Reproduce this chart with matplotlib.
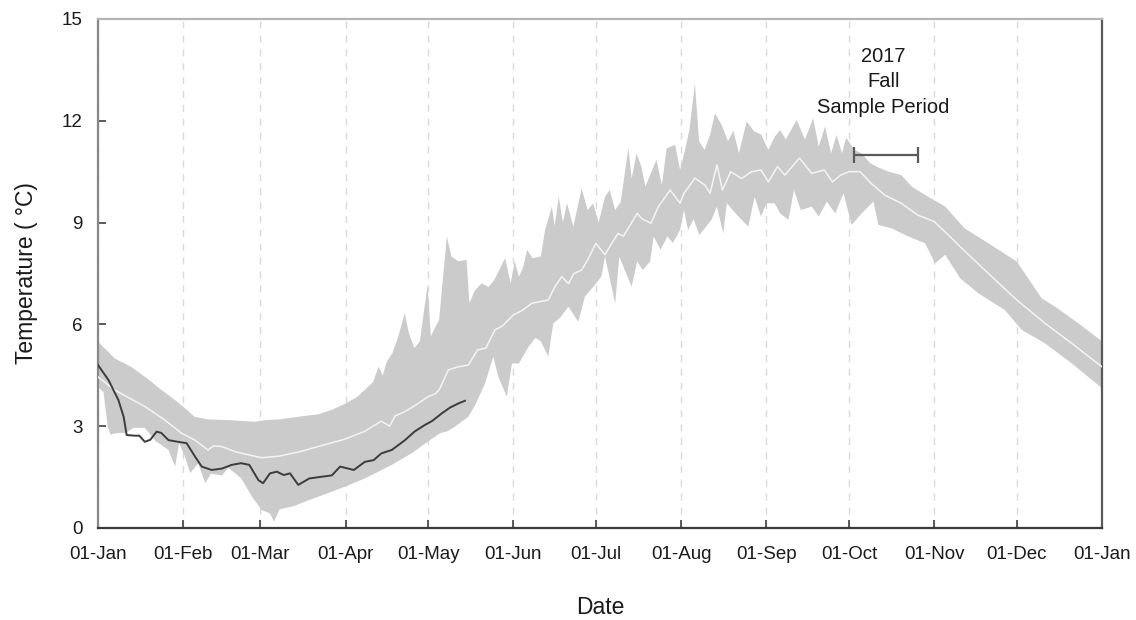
import numpy as np
import matplotlib
matplotlib.use('Agg')
import matplotlib.pyplot as plt
import matplotlib.dates as mdates

plt.rcParams['font.family'] = ['Liberation Sans', 'DejaVu Sans']

# day of year (from 01-Jan) and temperature in deg C

# upper edge of the historical range
up_day = [0, 3, 6, 12, 18, 23, 28, 32, 35, 40, 47, 53, 57, 61, 66, 73, 80, 85, 90, 94,
          97, 100, 102, 103.5, 105, 107, 109, 111.5, 113, 115, 117, 119.8, 121, 122.5, 124,
          126.8, 128.5, 131, 134, 135, 137, 139.5, 142, 144, 148, 150, 151.5, 153, 154.6,
          156, 158, 161, 162.5, 165, 166, 167.5, 169, 170.5, 172.8, 175.8, 178, 180, 182,
          184.3, 186, 188, 190, 192.8, 194, 195.8, 197.5, 199, 203, 205, 206.7, 209.8,
          211.6, 213, 215, 217, 218.5, 220.5, 222.5, 224.3, 226.7, 229, 231, 233, 235.8,
          238.5, 241, 243.7, 246, 248, 250, 254, 257, 260, 262, 264.3, 266.5, 268.5, 270.5,
          272, 275, 277.6, 280.7, 283, 287.3, 292, 295.8, 301.8, 308, 315, 323.7, 334,
          339.4, 343, 348, 356.4, 365]
up_temp = [5.49, 5.25, 5.0, 4.75, 4.4, 4.07, 3.77, 3.5, 3.28, 3.2, 3.18, 3.15, 3.13, 3.18,
           3.2, 3.28, 3.35, 3.48, 3.67, 3.85, 4.07, 4.3, 4.75, 4.5, 4.9, 5.15, 5.6, 6.33, 5.74,
           5.3, 5.5, 7.16, 5.64, 5.9, 6.13, 8.59, 8.0, 7.86, 7.9, 6.62, 7.0, 7.21, 7.1, 7.3,
           7.95, 7.2, 7.86, 7.4, 7.7, 8.19, 7.95, 8.0, 8.78, 9.47, 8.9, 9.76, 9.0, 9.57, 8.88,
           10.0, 9.37, 9.57, 9.0, 9.76, 9.96, 9.37, 9.6, 11.19, 10.3, 11.04, 10.65, 10.06,
           10.85, 10.1, 11.19, 11.29, 10.55, 11.0, 11.73, 13.1, 11.4, 11.14, 11.58, 12.22,
           11.88, 11.4, 11.7, 11.04, 11.98, 11.69, 11.6, 11.14, 11.53, 11.73, 11.45, 12.02,
           11.45, 12.07, 11.24, 11.83, 11.04, 11.58, 11.04, 11.5, 11.14, 11.04, 10.75, 10.65,
           10.5, 10.4, 10.06, 9.76, 9.47, 8.83, 8.39, 7.85, 7.21, 6.77, 6.52, 6.03, 5.5]

# lower edge of the historical range
lo_day = [0, 2, 3.5, 4.5, 7, 10, 13, 17, 21, 23, 25.6, 28, 29.5, 31.6, 33.5, 36.4, 39, 41,
          45, 47.4, 52, 56, 59.5, 62.5, 64, 66, 71, 77, 85, 89.8, 97, 106.8, 114, 120, 124.3,
          127, 130, 134.6, 137, 140.7, 143.7, 145.5, 148.6, 150.5, 153, 156.5, 159, 161,
          163.7, 165.5, 168, 171, 174.6, 177, 181, 183, 184.3, 188, 189.5, 191.5, 194, 196,
          198, 200.7, 202, 204.5, 207, 209, 211.6, 213, 214.5, 216.5, 218.6, 223, 225, 227.3,
          228.6, 232.8, 236.4, 238.7, 241, 243, 246, 248, 251, 253, 255.5, 259.5, 262, 265,
          268, 271, 274, 277.6, 281.9, 283.7, 288.5, 294.6, 300.7, 304.3, 308, 313.4, 320,
          329.7, 335.8, 344.3, 354, 365]
lo_temp = [4.16, 4.0, 3.0, 2.75, 2.8, 2.8, 2.95, 2.95, 2.55, 2.45, 2.3, 1.81, 2.5, 2.1, 1.62,
           1.9, 1.32, 1.6, 1.55, 1.77, 1.47, 0.92, 0.53, 0.43, 0.19, 0.55, 0.64, 0.83, 1.07,
           1.22, 1.46, 1.86, 2.2, 2.55, 2.79, 2.85, 3.0, 3.28, 3.6, 4.26, 5.05, 4.46, 3.87,
           4.85, 4.85, 5.34, 5.6, 5.5, 5.05, 6.03, 6.2, 6.52, 6.08, 6.82, 7.2, 7.41, 8.0, 6.62,
           8.0, 7.6, 7.11, 7.86, 7.6, 7.85, 8.59, 8.2, 8.59, 8.4, 8.78, 9.37, 8.78, 9.1, 8.63,
           9.08, 9.47, 8.68, 9.57, 9.18, 8.88, 9.76, 9.18, 9.57, 9.57, 9.27, 9.08, 9.96, 9.37,
           9.47, 9.18, 9.62, 9.27, 9.86, 8.93, 9.27, 9.62, 8.93, 8.83, 8.59, 8.39, 7.8, 8.05,
           7.36, 6.92, 6.42, 5.84, 5.44, 4.85, 4.12]

# daily mean
mean_day = [0, 6, 12, 17, 24, 30.4, 35, 40, 42, 45, 49.8, 55, 59.5, 66, 73.4, 80, 89.8, 97,
            103, 106, 108, 111.6, 116, 120, 122.5, 124, 127.4, 131, 134.6, 138, 141, 144.3,
            147, 151, 154, 157.7, 163.7, 166, 168.6, 171, 173, 175.8, 178, 181, 184.3, 186,
            189, 191, 196, 198, 201, 203.7, 208, 211.6, 213, 217, 220.7, 222.5, 225, 227, 230,
            234, 237.6, 241, 243.7, 247, 249.7, 255, 259.5, 264, 267, 270, 273, 277, 281, 286,
            292, 298, 304, 309.7, 313.4, 323.7, 334, 344.3, 354, 365]
mean_temp = [4.45, 4.07, 3.8, 3.58, 3.2, 2.79, 2.6, 2.3, 2.42, 2.4, 2.25, 2.15, 2.07, 2.12,
             2.25, 2.4, 2.62, 2.85, 3.15, 3.0, 3.3, 3.43, 3.65, 3.87, 3.95, 4.07, 4.66, 4.75,
             4.8, 5.25, 5.3, 5.84, 5.95, 6.28, 6.4, 6.62, 6.72, 7.1, 7.41, 7.2, 7.5, 7.6, 7.9,
             8.39, 8.05, 8.29, 8.68, 8.6, 9.27, 9.1, 8.98, 9.47, 9.96, 9.57, 9.86, 10.31, 10.1,
             9.86, 10.7, 9.96, 10.5, 10.3, 10.5, 10.55, 10.2, 10.65, 10.4, 10.9, 10.45, 10.55,
             10.2, 10.4, 10.5, 10.5, 10.16, 9.81, 9.57, 9.22, 9.03, 8.59, 8.29, 7.5, 6.72, 6.03,
             5.44, 4.75]

# 2017 observations
obs_day = [0, 3.8, 7.4, 9.3, 10.4, 13.4, 15, 17, 19, 21.3, 23, 25.6, 29, 32.2, 35.3, 37.7,
           41.3, 45, 48.6, 52, 55, 58.3, 60, 62.5, 65, 67.5, 69.8, 72.8, 76.8, 81.3, 85, 88,
           93, 97, 100.2, 103, 106.8, 111.6, 115.2, 118.9, 121.4, 125, 128, 131, 133.4]
obs_temp = [4.8, 4.36, 3.77, 3.28, 2.74, 2.72, 2.72, 2.54, 2.6, 2.84, 2.8, 2.59, 2.54, 2.5,
            2.1, 1.81, 1.71, 1.75, 1.86, 1.91, 1.86, 1.41, 1.32, 1.61, 1.66, 1.56, 1.61, 1.27,
            1.46, 1.51, 1.55, 1.81, 1.71, 1.95, 2.0, 2.2, 2.3, 2.59, 2.85, 3.04, 3.15, 3.38,
            3.55, 3.67, 3.75]

# fall sampling window
sample_start = '2017-10-03'
sample_end = '2017-10-26'
sample_temp = 11.0
sample_label = '2017\nFall\nSample Period'

year_start = mdates.date2num(np.datetime64('2017-01-01'))


def to_dates(days):
    """day-of-year offsets -> matplotlib date numbers"""
    return year_start + np.asarray(days, dtype=float)


fig = plt.figure(figsize=(11.36, 6.2), dpi=100)
ax = fig.add_axes([0.0863, 0.1484, 0.8838, 0.821])

# historical range as one polygon: upper edge forward, lower edge back
band_x = np.concatenate([to_dates(up_day), to_dates(lo_day)[::-1]])
band_y = np.concatenate([up_temp, lo_temp[::-1]])
ax.fill(band_x, band_y, color='#cbcbcb', lw=0, zorder=2)

ax.plot(to_dates(mean_day), mean_temp, color='#f4f4f4', lw=1.1, zorder=3)
ax.plot(to_dates(obs_day), obs_temp, color='#3c3c3c', lw=1.4, zorder=4)

# sample period bar
t0 = mdates.date2num(np.datetime64(sample_start))
t1 = mdates.date2num(np.datetime64(sample_end))
ax.errorbar((t0 + t1) / 2, sample_temp, xerr=(t1 - t0) / 2, fmt='none', ecolor='#5a5a5a',
            elinewidth=1.6, capsize=6, capthick=1.6, zorder=5)
ax.text((t0 + t1) / 2 - 1.0, 13.15, sample_label, ha='center', va='center', fontsize=14.5,
        linespacing=1.42, color='#1a1a1a', zorder=6)

# axes
ax.set_xlim(year_start, year_start + 365)
ax.set_ylim(0, 15)
ax.set_yticks([0, 3, 6, 9, 12, 15])
ax.xaxis.set_major_locator(mdates.MonthLocator(bymonthday=1))
ax.xaxis.set_major_formatter(mdates.DateFormatter('%d-%b'))

ax.grid(axis='x', color='#dadada', linestyle=(0, (5, 5)), lw=1.0, zorder=1)
ax.set_axisbelow(True)

ax.tick_params(direction='in', length=6, width=1.2, colors='#404040', labelsize=13.5,
               labelcolor='#1a1a1a')
ax.tick_params(axis='x', pad=13)
ax.tick_params(axis='y', pad=11)

ax.spines['top'].set_color('#b4b4b4')
ax.spines['left'].set_color('#888888')
ax.spines['bottom'].set_color('#3a3a3a')
ax.spines['right'].set_color('#5a5a5a')
for side in ['top', 'left', 'bottom', 'right']:
    ax.spines[side].set_linewidth(1.6)

ax.set_xlabel('Date', fontsize=16.5, labelpad=24, color='#1a1a1a')
ax.set_ylabel('Temperature ( °C)', fontsize=16.5, labelpad=17, color='#1a1a1a')

fig.savefig('out.png', dpi=100)
